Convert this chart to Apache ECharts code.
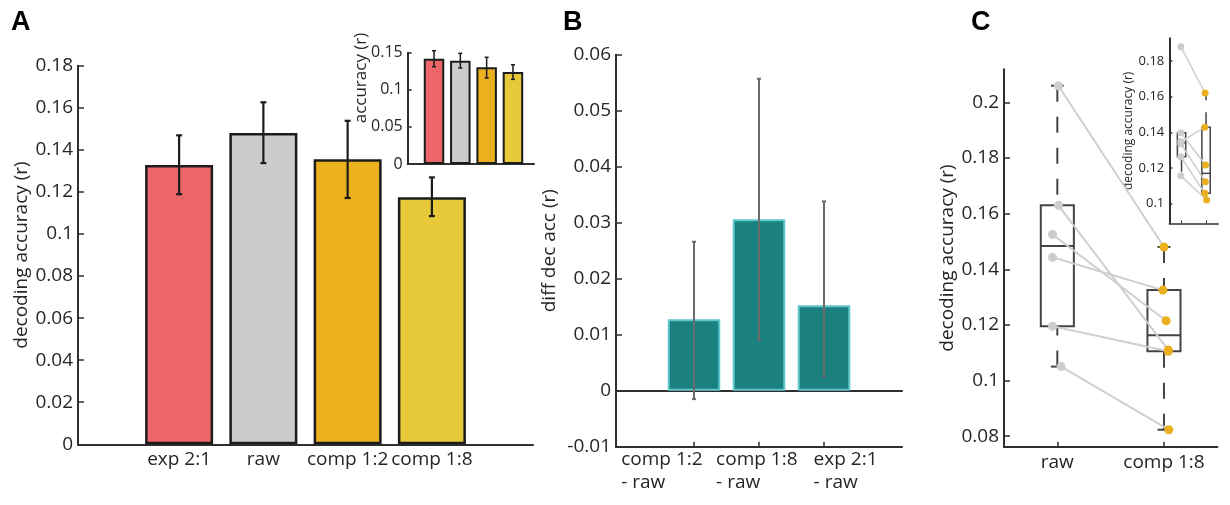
<!DOCTYPE html>
<html>
<head>
<meta charset="utf-8">
<script src="https://cdn.jsdelivr.net/npm/echarts@6/dist/echarts.min.js"></script>
<style>
  html, body { margin: 0; padding: 0; background: #fff; }
  #chart { width: 1230px; height: 505px; }
</style>
</head>
<body>
<div id="chart"></div>
<script>
// ---- Panel A: mean decoding accuracy per condition ----
const aCategories = ['exp 2:1', 'raw', 'comp 1:2', 'comp 1:8'];
const aMeans   = [0.1328, 0.1480, 0.1355, 0.1174];
const aErrLow  = [0.1189, 0.1337, 0.1171, 0.1085];
const aErrHigh = [0.1469, 0.1626, 0.1538, 0.1269];
const aTicks      = [0, 0.02, 0.04, 0.06, 0.08, 0.1, 0.12, 0.14, 0.16, 0.18];
const aTickLabels = ['0', '0.02', '0.04', '0.06', '0.08', '0.1', '0.12', '0.14', '0.16', '0.18'];

// Panel A inset
const insetMeans   = [0.1419, 0.1392, 0.1303, 0.1240];
const insetErrLow  = [0.1311, 0.1294, 0.1159, 0.1141];
const insetErrHigh = [0.1527, 0.1491, 0.1438, 0.1338];
const insetTicks      = [0, 0.05, 0.1, 0.15];
const insetTickLabels = ['0', '0.05', '0.1', '0.15'];

// ---- Panel B: differences against raw ----
const bCategories = ['comp 1:2\n- raw', 'comp 1:8\n- raw', 'exp 2:1\n- raw'];
const bDiffs   = [0.01275, 0.0306, 0.01525];
const bErrLow  = [-0.0015, 0.0090, 0.0025];
const bErrHigh = [0.0266, 0.0557, 0.0338];
const bTicks      = [-0.01, 0, 0.01, 0.02, 0.03, 0.04, 0.05, 0.06];
const bTickLabels = ['-0.01', '0', '0.01', '0.02', '0.03', '0.04', '0.05', '0.06'];

// ---- Panel C: per-subject accuracy, raw vs comp 1:8 ----
const cCategories = ['raw', 'comp 1:8'];
const cRaw  = [0.206, 0.163, 0.1525, 0.1443, 0.1195, 0.105];
const cComp = [0.148, 0.111, 0.1215, 0.1325, 0.1105, 0.0823];
const cRawJitter  = [0.01, 0.01, -0.045, -0.045, -0.045, 0.035];
const cCompJitter = [0.0, 0.04, 0.02, -0.01, 0.04, 0.045];
const cTicks      = [0.08, 0.1, 0.12, 0.14, 0.16, 0.18, 0.2];
const cTickLabels = ['0.08', '0.1', '0.12', '0.14', '0.16', '0.18', '0.2'];

// Panel C inset
const cInsetRaw  = [0.188, 0.1348, 0.1398, 0.1335, 0.1263, 0.1156];
const cInsetComp = [0.162, 0.1428, 0.1217, 0.1123, 0.1058, 0.1021];
const cInsetRawJitter  = [-0.03, -0.03, -0.03, -0.03, -0.03, -0.03];
const cInsetCompJitter = [-0.04, -0.05, -0.02, -0.03, -0.05, 0.02];
const cInsetTicks      = [0.1, 0.12, 0.14, 0.16, 0.18];
const cInsetTickLabels = ['0.1', '0.12', '0.14', '0.16', '0.18'];

// ---- styling ----
const FONT = '"Open Sans", "Noto Sans", sans-serif';
const INK = '#262626';
const AXIS = '#2f2f2f';
const barColors = ['#ec6568', '#cdcbcc', '#ebb01e', '#e8c93a'];
const TEAL = '#1b817e', TEAL_EDGE = '#5fc6cd';
const RAW_DOT = '#cdcdcd', COMP_DOT = '#ebb020', LINK = '#cfcfcf', BOX = '#444444';

// boxplot statistics (MATLAB-style quartiles, 1.5 IQR whiskers)
function prctile(sorted, p) {
  const n = sorted.length;
  const pos = p * n + 0.5;
  if (pos <= 1) return sorted[0];
  if (pos >= n) return sorted[n - 1];
  const i = Math.floor(pos), f = pos - i;
  return sorted[i - 1] + f * (sorted[i] - sorted[i - 1]);
}
function boxStats(values, x) {
  const s = values.slice().sort((a, b) => a - b);
  const q1 = prctile(s, 0.25), med = prctile(s, 0.5), q3 = prctile(s, 0.75);
  const iqr = q3 - q1;
  const hi = Math.max(...s.filter(v => v <= q3 + 1.5 * iqr));
  const lo = Math.min(...s.filter(v => v >= q1 - 1.5 * iqr));
  return [x, lo, q1, med, q3, hi];
}

function labelFrom(ticks, labels) {
  return v => {
    const i = ticks.findIndex(t => Math.abs(t - v) < 1e-9);
    return i < 0 ? '' : labels[i];
  };
}

function yAxisDef(grid, min, max, ticks, labels, fontSize, tickLen, name, nameGap, nameSize) {
  return {
    type: 'value', gridIndex: grid, min: min, max: max,
    name: name || '', nameLocation: 'middle', nameGap: nameGap || 0,
    nameTextStyle: { fontFamily: FONT, fontSize: nameSize || fontSize, color: INK },
    axisLine: { show: true, onZero: false, lineStyle: { color: AXIS, width: 2 } },
    axisTick: { show: true, inside: true, length: tickLen, customValues: ticks, lineStyle: { color: AXIS, width: 1.5 } },
    axisLabel: { customValues: ticks, formatter: labelFrom(ticks, labels), fontFamily: FONT, fontSize: fontSize, color: INK, margin: 5 },
    splitLine: { show: false }
  };
}

function errorBars(capHalf, color, width) {
  return (params, api) => {
    const x = api.value(0);
    const lo = api.coord([x, api.value(1)]);
    const hi = api.coord([x, api.value(2)]);
    const style = { stroke: color, lineWidth: width };
    return {
      type: 'group', children: [
        { type: 'line', shape: { x1: lo[0], y1: lo[1], x2: hi[0], y2: hi[1] }, style: style },
        { type: 'line', shape: { x1: lo[0] - capHalf, y1: lo[1], x2: lo[0] + capHalf, y2: lo[1] }, style: style },
        { type: 'line', shape: { x1: hi[0] - capHalf, y1: hi[1], x2: hi[0] + capHalf, y2: hi[1] }, style: style }
      ]
    };
  };
}

function boxes(halfW, capHalf, dash, lw, fromEnd) {
  return (params, api) => {
    const x = api.value(0);
    const lo = api.value(1), q1 = api.value(2), med = api.value(3), q3 = api.value(4), hi = api.value(5);
    const tl = api.coord([x - halfW, q3]), br = api.coord([x + halfW, q1]);
    const ml = api.coord([x - halfW, med]), mr = api.coord([x + halfW, med]);
    const pHi = api.coord([x, hi]), pQ3 = api.coord([x, q3]), pQ1 = api.coord([x, q1]), pLo = api.coord([x, lo]);
    const capPx = capHalf > 0 ? api.size([capHalf, 0])[0] : 0;
    const solid = { stroke: BOX, lineWidth: lw, fill: null };
    const dashed = { stroke: BOX, lineWidth: lw, lineDash: dash };
    const seg = (a, b) => fromEnd
      ? { x1: a[0], y1: a[1], x2: b[0], y2: b[1] }
      : { x1: b[0], y1: b[1], x2: a[0], y2: a[1] };
    const kids = [
      { type: 'line', shape: seg(pHi, pQ3), style: dashed },
      { type: 'line', shape: seg(pLo, pQ1), style: dashed },
      { type: 'rect', shape: { x: tl[0], y: tl[1], width: br[0] - tl[0], height: br[1] - tl[1] }, style: solid },
      { type: 'line', shape: { x1: ml[0], y1: ml[1], x2: mr[0], y2: mr[1] }, style: solid }
    ];
    if (capPx > 0) {
      kids.push({ type: 'line', shape: { x1: pHi[0] - capPx, y1: pHi[1], x2: pHi[0] + capPx, y2: pHi[1] }, style: solid });
      kids.push({ type: 'line', shape: { x1: pLo[0] - capPx, y1: pLo[1], x2: pLo[0] + capPx, y2: pLo[1] }, style: solid });
    }
    return { type: 'group', children: kids };
  };
}

function links(color, width) {
  return (params, api) => {
    const a = api.coord([api.value(0), api.value(1)]);
    const b = api.coord([api.value(2), api.value(3)]);
    return { type: 'line', shape: { x1: a[0], y1: a[1], x2: b[0], y2: b[1] }, style: { stroke: color, lineWidth: width } };
  };
}

const aIdx = aCategories.map((c, i) => i + 1);
const bIdx = bCategories.map((c, i) => i + 1);
const cIdx = cCategories.map((c, i) => i + 1);
// left edges of the two-line panel B labels, in axis units
const bLabelStart = [-0.12, 1.34, 2.84];

const chart = echarts.init(document.getElementById('chart'), null, { renderer: 'canvas' });

const option = {
  animation: false,
  backgroundColor: '#ffffff',
  grid: [
    { left: 78, top: 65.7, width: 455, height: 378.6 },
    { left: 407.7, top: 52.7, width: 126.3, height: 111.3 },
    { left: 616, top: 54.7, width: 286, height: 392 },
    { left: 1004, top: 69.3, width: 213.3, height: 377.4 },
    { left: 1169.3, top: 38.3, width: 49, height: 185 }
  ],
  xAxis: [
    { type: 'value', gridIndex: 0, min: -0.2, max: 5.2,
      axisLine: { onZero: false, lineStyle: { color: AXIS, width: 2 } },
      axisTick: { show: false }, splitLine: { show: false },
      axisLabel: { customValues: aIdx, formatter: v => aCategories[Math.round(v) - 1], fontFamily: FONT, fontSize: 19, color: INK, margin: 6 } },
    { type: 'value', gridIndex: 1, min: 0, max: 4.8,
      axisLine: { onZero: false, lineStyle: { color: AXIS, width: 2 } },
      axisTick: { show: false }, axisLabel: { show: false }, splitLine: { show: false } },
    { type: 'value', gridIndex: 2, min: -0.2, max: 4.2,
      axisLine: { onZero: false, lineStyle: { color: AXIS, width: 2 } },
      axisTick: { show: true, inside: true, length: 5, customValues: bIdx, lineStyle: { color: AXIS, width: 1.5 } },
      splitLine: { show: false },
      axisLabel: { customValues: bLabelStart, align: 'left', lineHeight: 23,
        formatter: v => {
          let best = 0;
          bLabelStart.forEach((s, i) => { if (Math.abs(s - v) < Math.abs(bLabelStart[best] - v)) best = i; });
          return bCategories[best];
        },
        fontFamily: FONT, fontSize: 19, color: INK, margin: 1 } },
    // zero reference line of panel B
    { type: 'value', gridIndex: 2, min: -0.2, max: 4.2,
      axisLine: { onZero: true, lineStyle: { color: AXIS, width: 2 } },
      axisTick: { show: false }, axisLabel: { show: false }, splitLine: { show: false } },
    { type: 'value', gridIndex: 3, min: 0.5, max: 2.5,
      axisLine: { onZero: false, lineStyle: { color: AXIS, width: 2 } },
      axisTick: { show: true, inside: true, length: 5, customValues: cIdx, lineStyle: { color: AXIS, width: 1.5 } },
      splitLine: { show: false },
      axisLabel: { customValues: cIdx, formatter: v => cCategories[Math.round(v) - 1], fontFamily: FONT, fontSize: 19, color: INK, margin: 6 } },
    { type: 'value', gridIndex: 4, min: 0.5, max: 2.5,
      axisLine: { onZero: false, lineStyle: { color: AXIS, width: 1.5 } },
      axisTick: { show: true, inside: true, length: 3, customValues: cIdx, lineStyle: { color: AXIS, width: 1 } },
      axisLabel: { show: false }, splitLine: { show: false } }
  ],
  yAxis: [
    yAxisDef(0, 0, 0.18, aTicks, aTickLabels, 19, 6, 'decoding accuracy (r)', 46, 19),
    yAxisDef(1, 0, 0.15, insetTicks, insetTickLabels, 16, 4),
    yAxisDef(2, -0.01, 0.06, bTicks, bTickLabels, 19, 6, 'diff dec acc (r)', 57, 19),
    yAxisDef(3, 0.0762, 0.2119, cTicks, cTickLabels, 19, 6, 'decoding accuracy (r)', 43, 19),
    yAxisDef(4, 0.089, 0.1927, cInsetTicks, cInsetTickLabels, 13, 3, 'decoding accuracy (r)', 31, 12)
  ],
  series: [
    { type: 'bar', xAxisIndex: 0, yAxisIndex: 0, barWidth: 68,
      itemStyle: { borderColor: '#1c1c1c', borderWidth: 2.5 },
      data: aMeans.map((v, i) => ({ value: [i + 1, v], itemStyle: { color: barColors[i] } })) },
    { type: 'custom', xAxisIndex: 0, yAxisIndex: 0, z: 5,
      renderItem: errorBars(3, '#1c1c1c', 2.2), encode: { x: 0, y: [1, 2] },
      data: aErrLow.map((lo, i) => [i + 1, lo, aErrHigh[i]]) },

    { type: 'bar', xAxisIndex: 1, yAxisIndex: 1, barWidth: 20.5,
      itemStyle: { borderColor: '#1c1c1c', borderWidth: 2 },
      data: insetMeans.map((v, i) => ({ value: [i + 1, v], itemStyle: { color: barColors[i] } })) },
    { type: 'custom', xAxisIndex: 1, yAxisIndex: 1, z: 5,
      renderItem: errorBars(2, '#1c1c1c', 1.5), encode: { x: 0, y: [1, 2] },
      data: insetErrLow.map((lo, i) => [i + 1, lo, insetErrHigh[i]]) },

    { type: 'bar', xAxisIndex: 2, yAxisIndex: 2, barWidth: 52.5,
      itemStyle: { color: TEAL, borderColor: TEAL_EDGE, borderWidth: 2 },
      data: bDiffs.map((v, i) => [i + 1, v]) },
    { type: 'custom', xAxisIndex: 2, yAxisIndex: 2, z: 5,
      renderItem: errorBars(2, '#6b6b6b', 2), encode: { x: 0, y: [1, 2] },
      data: bErrLow.map((lo, i) => [i + 1, lo, bErrHigh[i]]) },

    { type: 'custom', xAxisIndex: 4, yAxisIndex: 3, z: 2,
      renderItem: boxes(0.155, 0.06, [16, 15], 2, true), encode: { x: 0, y: [1, 5] },
      data: [boxStats(cRaw, 1), boxStats(cComp, 2)] },
    { type: 'custom', xAxisIndex: 4, yAxisIndex: 3, z: 3,
      renderItem: links(LINK, 2), encode: { x: [0, 2], y: [1, 3] },
      data: cRaw.map((v, i) => [1 + cRawJitter[i], v, 2 + cCompJitter[i], cComp[i]]) },
    { type: 'scatter', xAxisIndex: 4, yAxisIndex: 3, z: 4, symbolSize: 9,
      itemStyle: { color: RAW_DOT, opacity: 1 },
      data: cRaw.map((v, i) => [1 + cRawJitter[i], v]) },
    { type: 'scatter', xAxisIndex: 4, yAxisIndex: 3, z: 4, symbolSize: 9,
      itemStyle: { color: COMP_DOT, opacity: 1 },
      data: cComp.map((v, i) => [2 + cCompJitter[i], v]) },

    { type: 'custom', xAxisIndex: 5, yAxisIndex: 4, z: 2,
      renderItem: boxes(0.17, 0, [15, 12], 1.5, false), encode: { x: 0, y: [1, 5] },
      data: [boxStats(cInsetRaw, 1), boxStats(cInsetComp, 2)] },
    { type: 'custom', xAxisIndex: 5, yAxisIndex: 4, z: 3,
      renderItem: links(LINK, 1.5), encode: { x: [0, 2], y: [1, 3] },
      data: cInsetRaw.map((v, i) => [1 + cInsetRawJitter[i], v, 2 + cInsetCompJitter[i], cInsetComp[i]]) },
    { type: 'scatter', xAxisIndex: 5, yAxisIndex: 4, z: 4, symbolSize: 7,
      itemStyle: { color: RAW_DOT, opacity: 1 },
      data: cInsetRaw.map((v, i) => [1 + cInsetRawJitter[i], v]) },
    { type: 'scatter', xAxisIndex: 5, yAxisIndex: 4, z: 4, symbolSize: 7,
      itemStyle: { color: COMP_DOT, opacity: 1 },
      data: cInsetComp.map((v, i) => [2 + cInsetCompJitter[i], v]) }
  ],
  graphic: [
    { type: 'text', left: 11, top: 9, style: { text: 'A', font: 'bold 27px "Liberation Sans", Arial, sans-serif', fill: '#000' } },
    { type: 'text', left: 563, top: 9, style: { text: 'B', font: 'bold 27px "Liberation Sans", Arial, sans-serif', fill: '#000' } },
    { type: 'text', left: 971, top: 9, style: { text: 'C', font: 'bold 27px "Liberation Sans", Arial, sans-serif', fill: '#000' } },
    { type: 'text', x: 361, y: 78, rotation: Math.PI / 2,
      style: { text: 'accuracy (r)', font: '17px ' + FONT, fill: INK, align: 'center', verticalAlign: 'middle' } }
  ]
};

chart.setOption(option);
</script>
</body>
</html>
